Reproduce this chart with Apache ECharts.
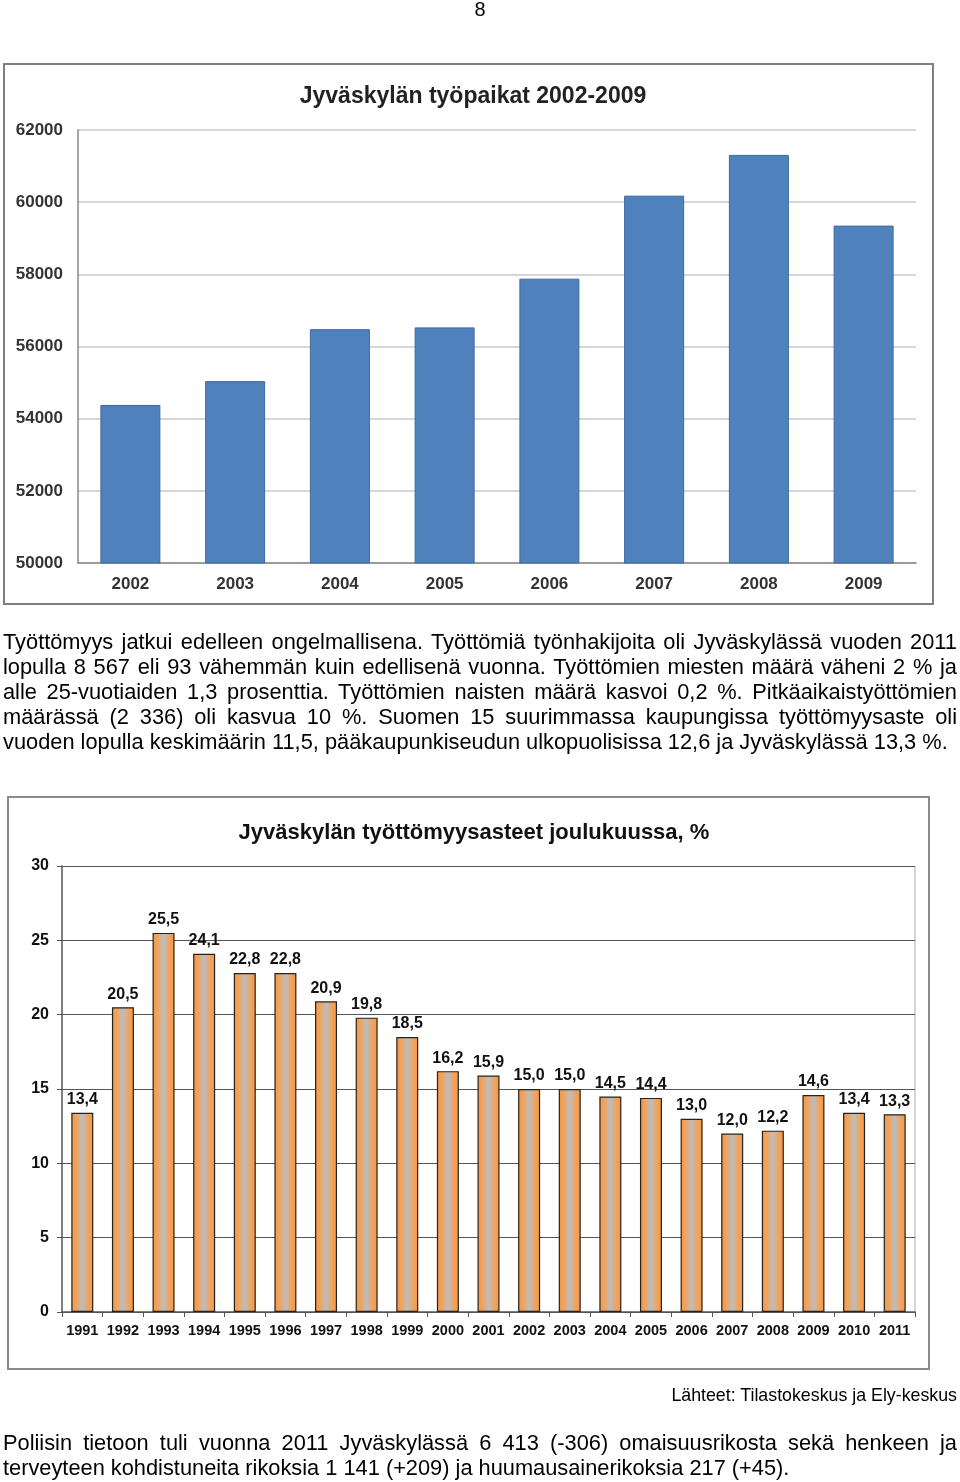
<!DOCTYPE html>
<html><head><meta charset="utf-8">
<script src="https://cdn.jsdelivr.net/npm/echarts@6/dist/echarts.min.js"></script>
<style>
body{margin:0;background:#fff;}
#chart{position:absolute;left:0;top:0;width:960px;height:1482px;}
.t{position:absolute;font-family:"Liberation Sans",Arial,sans-serif;color:#000;z-index:2;}
.p{left:3px;width:954px;font-size:21.8px;line-height:25px;}
.j{text-align:justify;text-align-last:justify;white-space:nowrap;}
</style></head><body>
<div id="chart"></div>
<div class="t" style="left:0;width:960px;top:-2px;text-align:center;font-size:20px;">8</div>
<div class="t p" style="top:629px;">
<div class="j">Työttömyys jatkui edelleen ongelmallisena. Työttömiä työnhakijoita oli Jyväskylässä vuoden 2011</div>
<div class="j">lopulla 8 567 eli 93 vähemmän kuin edellisenä vuonna. Työttömien miesten määrä väheni 2 % ja</div>
<div class="j">alle 25-vuotiaiden 1,3 prosenttia. Työttömien naisten määrä kasvoi 0,2 %. Pitkäaikaistyöttömien</div>
<div class="j">määrässä (2 336) oli kasvua 10 %. Suomen 15 suurimmassa kaupungissa työttömyysaste oli</div>
<div style="white-space:nowrap;">vuoden lopulla keskimäärin 11,5, pääkaupunkiseudun ulkopuolisissa 12,6 ja Jyväskylässä 13,3 %.</div>
</div>
<div class="t" style="right:3px;top:1385px;font-size:17.8px;">Lähteet: Tilastokeskus ja Ely-keskus</div>
<div class="t p" style="top:1430px;">
<div class="j">Poliisin tietoon tuli vuonna 2011 Jyväskylässä 6 413 (-306) omaisuusrikosta sekä henkeen ja</div>
<div style="white-space:nowrap;">terveyteen kohdistuneita rikoksia 1 141 (+209) ja huumausainerikoksia 217 (+45).</div>
</div>
<script>
const jobYears = ['2002','2003','2004','2005','2006','2007','2008','2009'];
const jobValues = [54380, 55040, 56480, 56530, 57880, 60180, 61310, 59350];
const jobTicks = [50000, 52000, 54000, 56000, 58000, 60000, 62000];

const rateYears = ['1991','1992','1993','1994','1995','1996','1997','1998','1999','2000','2001','2002','2003','2004','2005','2006','2007','2008','2009','2010','2011'];
const rateValues = [13.4, 20.5, 25.5, 24.1, 22.8, 22.8, 20.9, 19.8, 18.5, 16.2, 15.9, 15.0, 15.0, 14.5, 14.4, 13.0, 12.0, 12.2, 14.6, 13.4, 13.3];
const rateTicks = [0, 5, 10, 15, 20, 25, 30];

const FF = '"Liberation Sans", Arial, sans-serif';
const chart = echarts.init(document.getElementById('chart'), null, {renderer:'canvas'});
const barGrad = new echarts.graphic.LinearGradient(0,0,1,0,[
  {offset:0,color:'#F7963F'},{offset:0.2,color:'#F4A157'},{offset:0.5,color:'#BDBDBD'},
  {offset:0.8,color:'#F4A157'},{offset:1,color:'#F7963F'}]);

chart.setOption({
  animation:false,
  title:[
    {text:'Jyväskylän työpaikat 2002-2009',left:468,top:80,textAlign:'center',
     textStyle:{fontFamily:FF,fontSize:23,fontWeight:'bold',color:'#222'}},
    {text:'Jyväskylän työttömyysasteet joulukuussa, %',left:469,top:817,textAlign:'center',
     textStyle:{fontFamily:FF,fontSize:22,fontWeight:'bold',color:'#111'}}
  ],
  graphic:[
    {type:'rect',shape:{x:4,y:64,width:929,height:540},style:{fill:'none',stroke:'#7f7f7f',lineWidth:2}},
    {type:'rect',shape:{x:8,y:797,width:921,height:572},style:{fill:'none',stroke:'#8a8a8a',lineWidth:2}},
    {type:'line',shape:{x1:915,y1:866,x2:915,y2:1312},style:{stroke:'#c8c8c8',lineWidth:1.5}}
  ],
  grid:[
    {left:78,top:130,width:838,height:433},
    {left:62,top:866,width:853,height:446}
  ],
  xAxis:[
    {type:'category',gridIndex:0,data:jobYears,
     axisLine:{lineStyle:{color:'#888',width:1.5}},axisTick:{show:false},
     axisLabel:{fontFamily:FF,fontSize:17,fontWeight:'bold',color:'#333',margin:13,interval:0}},
    {type:'category',gridIndex:1,data:rateYears,
     axisLine:{lineStyle:{color:'#555',width:1.5}},
     axisTick:{show:true,length:5,interval:0,lineStyle:{color:'#555'}},
     axisLabel:{fontFamily:FF,fontSize:14.5,fontWeight:'bold',color:'#111',margin:11,interval:0}}
  ],
  yAxis:[
    {type:'value',gridIndex:0,min:jobTicks[0],max:jobTicks[jobTicks.length-1],interval:2000,
     axisLine:{show:true,lineStyle:{color:'#888',width:1.5}},axisTick:{show:false},
     splitLine:{lineStyle:{color:'#c8c8c8',width:1.5}},
     axisLabel:{fontFamily:FF,fontSize:17,fontWeight:'bold',color:'#333',margin:15,formatter:v=>String(v)}},
    {type:'value',gridIndex:1,min:rateTicks[0],max:rateTicks[rateTicks.length-1],interval:5,
     axisLine:{show:true,lineStyle:{color:'#555',width:1.5}},
     axisTick:{show:true,length:5,lineStyle:{color:'#555'}},
     splitLine:{lineStyle:{color:'#555',width:1.2}},
     axisLabel:{fontFamily:FF,fontSize:16,fontWeight:'bold',color:'#111',margin:13}}
  ],
  series:[
    {type:'bar',xAxisIndex:0,yAxisIndex:0,data:jobValues,barWidth:60,
     itemStyle:{color:'#4F81BD',borderColor:'#3d6a9f',borderWidth:1}},
    {type:'bar',xAxisIndex:1,yAxisIndex:1,data:rateValues,barWidth:22,
     itemStyle:{color:barGrad,borderColor:'#222',borderWidth:1.2},
     label:{show:true,position:'top',distance:5,fontFamily:FF,fontSize:16,fontWeight:'bold',color:'#111',
       formatter:p=>p.value.toFixed(1).replace('.',',')}}
  ]
});
</script>
</body></html>
